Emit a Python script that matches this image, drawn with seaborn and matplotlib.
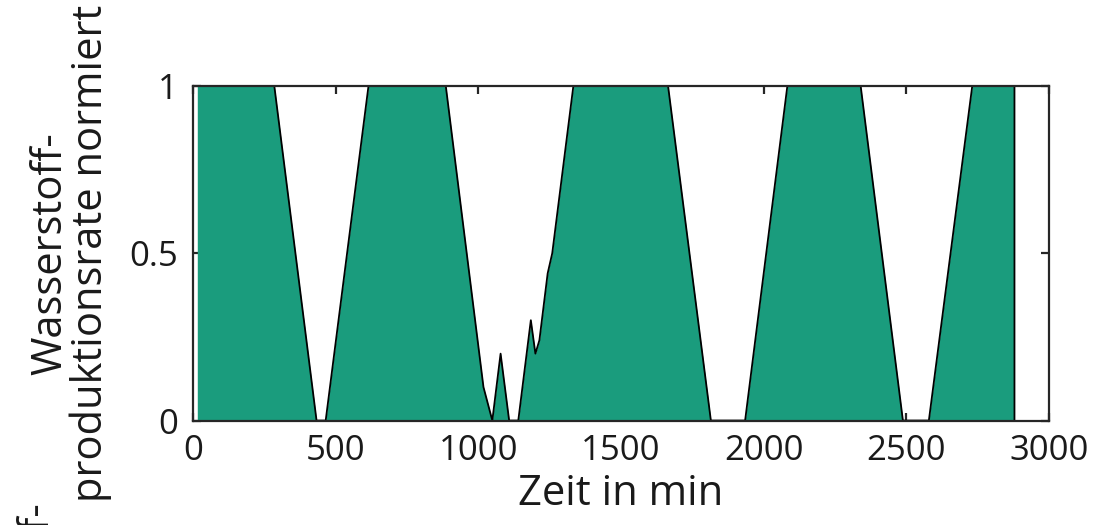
import numpy as np
import matplotlib
matplotlib.use("Agg")
import matplotlib.pyplot as plt
import seaborn as sns

# normierte Wasserstoffproduktionsrate ueber der Zeit
zeit = [15, 285, 433, 465, 615, 886, 1018, 1049, 1078, 1108, 1140, 1184,
        1200, 1214, 1243, 1259, 1333, 1665, 1815, 1935, 2083, 2340, 2488,
        2579, 2731, 2879, 2879]
rate = [1, 1, 0, 0, 1, 1, 0.10, 0, 0.20, 0, 0, 0.30,
        0.20, 0.24, 0.44, 0.50, 1, 1, 0, 0, 1, 1, 0,
        0, 1, 1, 0]
xticks = [0, 500, 1000, 1500, 2000, 2500, 3000]
yticks = [0, 0.5, 1]
yticklabels = ["0", "0.5", "1"]

sns.set_theme(style="ticks")
plt.rcParams["font.family"] = ["Open Sans", "DejaVu Sans"]

fig, ax = plt.subplots(figsize=(11.15, 5.25), dpi=100)
fig.subplots_adjust(left=0.1731, right=0.9408, bottom=0.199, top=0.836)

teal = "#1a9c7d"
ax.fill_between(zeit, rate, 0, color=teal, linewidth=0)
sns.lineplot(x=zeit, y=rate, ax=ax, color="black", linewidth=1.3,
             sort=False, estimator=None)

ax.set_xlim(0, 3000)
ax.set_ylim(0, 1)
ax.set_xticks(xticks)
ax.set_yticks(yticks)
ax.set_yticklabels(yticklabels)

for s in ax.spines.values():
    s.set_visible(True)
    s.set_color("#262626")
    s.set_linewidth(1.6)
ax.tick_params(direction="in", length=6, width=1.6, color="#262626",
               labelsize=25, labelcolor="#1a1a1a", top=True, right=True,
               pad=10)
ax.tick_params(axis="y", pad=11)

ax.set_xlabel("Zeit in min", fontsize=30, color="#1a1a1a", labelpad=3)
ax.set_ylabel("Wasserstoff-\nproduktionsrate normiert", fontsize=30,
              color="#1a1a1a", labelpad=12, linespacing=0.95)

# abgeschnittene Beschriftung des darunterliegenden Diagramms
fig.text(37 / 1115, 1 - 502 / 525, "Wasserstoff-", rotation=90,
         ha="center", va="top", fontsize=30, color="#1a1a1a")

fig.savefig("out.png", dpi=100)
